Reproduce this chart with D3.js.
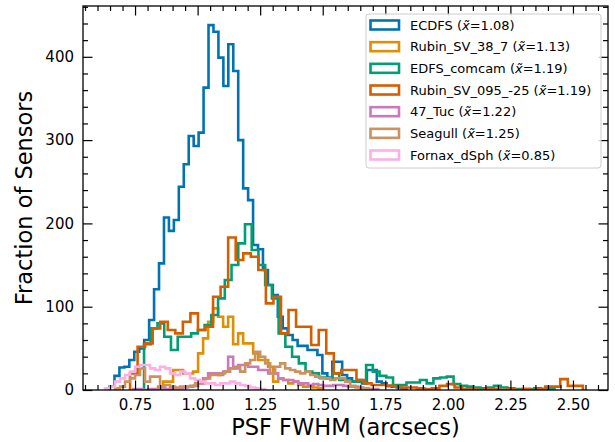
<!DOCTYPE html>
<html>
<head>
<meta charset="utf-8">
<script src="https://cdn.jsdelivr.net/npm/d3@7"></script>
<style>
  html, body { margin: 0; padding: 0; background: #fff; }
  svg { display: block; }
  text { font-family: "DejaVu Sans", sans-serif; fill: #000; }
</style>
</head>
<body>
<svg id="chart" width="615" height="442"></svg>
<script>
// ---------------- DATA ----------------
const seriesNames = ["ECDFS", "Rubin_SV_38_7", "EDFS_comcam", "Rubin_SV_095_-25", "47_Tuc", "Seagull", "Fornax_dSph"];
const seriesMedians = ["1.08", "1.13", "1.19", "1.19", "1.22", "1.25", "0.85"];
const seriesColors = ["#0173b2", "#de8f05", "#029e73", "#d55e00", "#cc78bc", "#ca9161", "#fbafe4"];
// first bin edge and bin width (arcsec) of each histogram
const binStarts = [0.648, 0.842, 0.786, 0.730, 0.742, 0.670, 0.630];
const binWidths = [0.01978, 0.02, 0.02689, 0.03016, 0.02, 0.02, 0.02];

const ecdfsCounts = [4, 17, 27, 28, 36, 46, 50, 60, 84, 121, 152, 207, 191, 204, 244, 271, 305, 293, 309, 363,
  438, 430, 399, 365, 415, 383, 300, 242, 228, 174, 169, 144, 126, 114, 88, 74, 66, 60, 53, 53,
  48, 48, 42, 20, 15, 34, 34, 18, 14, 10, 12, 8, 24, 24, 10, 8, 5, 4, 3, 2];
const rubin38Counts = [4, 10, 10, 24, 24, 20, 20, 22, 44, 62, 82, 98, 88, 76, 88, 55, 68, 56, 56, 44,
  36, 36, 28, 10, 14, 12, 8, 10, 6, 4, 5, 3, 2];
const edfsCounts = [55, 74, 80, 64, 48, 64, 64, 68, 72, 78, 90, 110, 132, 150, 176, 199, 168, 150, 126, 110,
  68, 52, 40, 32, 22, 20, 15, 14, 20, 12, 10, 10, 10, 30, 22, 17, 15, 6, 6, 9,
  9, 12, 8, 14, 15, 16, 7, 5, 4, 3, 2, 3, 5, 3, 2, 1, 1, 1, 2, 1, 1];
const rubin095Counts = [20, 52, 56, 74, 82, 72, 68, 82, 92, 72, 76, 112, 124, 183, 156, 164, 160, 144, 104, 112,
  68, 96, 76, 76, 54, 72, 44, 20, 24, 24, 12, 8, 6, 6, 5, 4, 3, 3, 2, 1,
  2, 5, 7, 3, 1, 1, 0, 1, 1, 0, 1, 0, 1, 0, 1, 4, 4, 13, 5, 5];
const tucCounts = [1, 1, 0, 1, 1, 1, 1, 1, 2, 2, 3, 4, 5, 8, 14, 20, 20, 18, 22, 40,
  26, 30, 30, 28, 28, 24, 24, 20, 20, 14, 12, 12, 10, 8, 8, 6, 7, 6, 5, 5,
  6, 6, 5, 4, 4, 3, 2, 1, 1];
const seagullCounts = [2, 4, 10, 14, 18, 26, 10, 16, 16, 4, 6, 4, 3, 4, 4, 5, 8, 8, 14, 18,
  18, 20, 22, 26, 28, 22, 32, 36, 46, 40, 32, 20, 28, 32, 26, 24, 22, 20, 22, 18,
  16, 14, 14, 12, 14, 14, 10, 5, 3, 2, 1];
const fornaxCounts = [2, 4, 10, 14, 18, 22, 28, 30, 30, 26, 24, 28, 26, 20, 18, 22, 20, 14, 12, 10,
  8, 8, 6, 8, 8, 10, 8, 6, 5, 3, 2, 1];
const seriesCounts = [ecdfsCounts, rubin38Counts, edfsCounts, rubin095Counts, tucCounts, seagullCounts, fornaxCounts];

const xTickValues = [0.75, 1.00, 1.25, 1.50, 1.75, 2.00, 2.25, 2.50];
const yTickValues = [0, 100, 200, 300, 400];
const xLabel = "PSF FWHM (arcsecs)";
const yLabel = "Fraction of Sensors";

// ---------------- LAYOUT ----------------
const L = 83, R = 608, T = 6, B = 390;
const svg = d3.select("#chart");
const x = d3.scaleLinear().domain([0.542, 2.640]).range([L, R]);
const y = d3.scaleLinear().domain([0, 461]).range([B, T]);

svg.append("defs").append("clipPath").attr("id", "plotclip")
  .append("rect").attr("x", L).attr("y", T).attr("width", R - L).attr("height", B - T);

// histograms (step)
const plot = svg.append("g").attr("clip-path", "url(#plotclip)");
seriesCounts.forEach((counts, s) => {
  const start = binStarts[s], w = binWidths[s];
  const edge = i => x(start + i * w);
  let d = `M${edge(0)},${y(0)}`;
  counts.forEach((c, i) => { d += `V${y(c)}H${edge(i + 1)}`; });
  d += `V${y(0)}`;
  plot.append("path").attr("d", d).attr("fill", "none")
    .attr("stroke", seriesColors[s]).attr("stroke-width", 2.6)
    .attr("stroke-linejoin", "miter");
});

// minor tick values
const xMinor = d3.range(0.55, 2.64, 0.05).map(v => +v.toFixed(2))
  .filter(v => !xTickValues.some(t => Math.abs(t - v) < 1e-6));
const yMinor = d3.range(20, 461, 20).filter(v => v % 100 !== 0);

function styleAxis(g) {
  g.select(".domain").remove();
  g.selectAll(".tick line").attr("stroke", "#000").attr("stroke-width", 1.2);
  g.selectAll(".tick text").style("font-size", "15px").style("font-family", "DejaVu Sans");
}
const MAJ = 9.5, MIN = 5;
// bottom
svg.append("g").attr("transform", `translate(0,${B})`)
  .call(d3.axisBottom(x).tickValues(xTickValues).tickFormat(d3.format(".2f")).tickSize(-MAJ).tickPadding(9))
  .call(styleAxis);
svg.append("g").attr("transform", `translate(0,${B})`)
  .call(d3.axisBottom(x).tickValues(xMinor).tickFormat("").tickSize(-MIN)).call(styleAxis);
// top
svg.append("g").attr("transform", `translate(0,${T})`)
  .call(d3.axisTop(x).tickValues(xTickValues).tickFormat("").tickSize(-MAJ)).call(styleAxis);
svg.append("g").attr("transform", `translate(0,${T})`)
  .call(d3.axisTop(x).tickValues(xMinor).tickFormat("").tickSize(-MIN)).call(styleAxis);
// left
svg.append("g").attr("transform", `translate(${L},0)`)
  .call(d3.axisLeft(y).tickValues(yTickValues).tickFormat(d3.format("d")).tickSize(-MAJ).tickPadding(9))
  .call(styleAxis);
svg.append("g").attr("transform", `translate(${L},0)`)
  .call(d3.axisLeft(y).tickValues(yMinor).tickFormat("").tickSize(-MIN)).call(styleAxis);
// right
svg.append("g").attr("transform", `translate(${R},0)`)
  .call(d3.axisRight(y).tickValues(yTickValues).tickFormat("").tickSize(-MAJ)).call(styleAxis);
svg.append("g").attr("transform", `translate(${R},0)`)
  .call(d3.axisRight(y).tickValues(yMinor).tickFormat("").tickSize(-MIN)).call(styleAxis);

// spines
svg.append("rect").attr("x", L).attr("y", T).attr("width", R - L).attr("height", B - T)
  .attr("fill", "none").attr("stroke", "#000").attr("stroke-width", 1.3);

// axis labels
svg.append("text").attr("x", (L + R) / 2).attr("y", 435).attr("text-anchor", "middle")
  .style("font-size", "22.5px").text(xLabel);
svg.append("text").attr("transform", `translate(32,${(T + B) / 2}) rotate(-90)`)
  .attr("text-anchor", "middle").style("font-size", "22.5px").text(yLabel);

// legend
const leg = svg.append("g");
leg.append("rect").attr("x", 366).attr("y", 14).attr("width", 235).attr("height", 154)
  .attr("rx", 3).attr("fill", "#fff").attr("fill-opacity", 0.8)
  .attr("stroke", "#cccccc").attr("stroke-width", 1);
seriesNames.forEach((name, i) => {
  const cy = 25 + i * 21.67;
  leg.append("rect").attr("x", 370.5).attr("y", cy - 4.5).attr("width", 28.5).attr("height", 9)
    .attr("fill", "#fff").attr("stroke", seriesColors[i]).attr("stroke-width", 2.6);
  const t = leg.append("text").attr("x", 410).attr("y", cy + 4.8).style("font-size", "13px");
  t.append("tspan").text(`${name} (`);
  t.append("tspan").style("font-style", "italic").text("x\u0303");
  t.append("tspan").text(`=${seriesMedians[i]})`);
});
</script>
</body>
</html>
